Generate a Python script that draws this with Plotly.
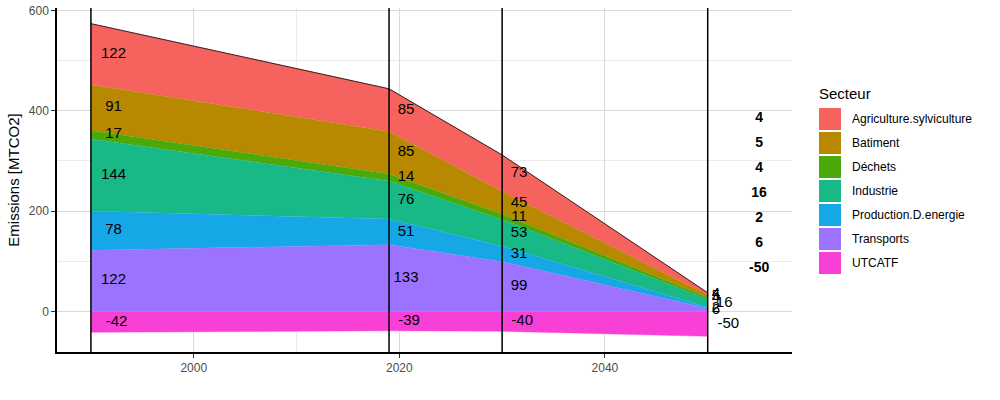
import plotly.graph_objects as go
import numpy as np

years = [1990, 2019, 2030, 2050]
sectors = ["Agriculture.sylviculture", "Batiment", "Déchets", "Industrie",
           "Production.D.energie", "Transports", "UTCATF"]
agriculture = [122, 85, 73, 4]
batiment = [91, 85, 45, 5]
dechets = [17, 14, 11, 4]
industrie = [144, 76, 53, 16]
production = [78, 51, 31, 2]
transports = [122, 133, 99, 6]
utcatf = [-42, -39, -40, -50]
colors = ["#F6635F", "#B88900", "#4BA90A", "#19B887", "#16A8E6", "#9B73FF", "#F83FD6"]

values = {"Agriculture.sylviculture": agriculture, "Batiment": batiment,
          "Déchets": dechets, "Industrie": industrie,
          "Production.D.energie": production, "Transports": transports,
          "UTCATF": utcatf}
color_of = dict(zip(sectors, colors))

fig = go.Figure()

stack_order = ["Transports", "Production.D.energie", "Industrie", "Déchets",
               "Batiment", "Agriculture.sylviculture"]
for s in stack_order:
    fig.add_trace(go.Scatter(x=years, y=values[s], name=s, stackgroup="pos",
                             mode="lines", line=dict(width=0.4, color=color_of[s]),
                             fillcolor=color_of[s], showlegend=False))
fig.add_trace(go.Scatter(x=years, y=utcatf, name="UTCATF", stackgroup="neg",
                         mode="lines", line=dict(width=0.4, color=color_of["UTCATF"]),
                         fillcolor=color_of["UTCATF"], showlegend=False))

total = np.sum([values[s] for s in stack_order], axis=0)
fig.add_trace(go.Scatter(x=years, y=total, mode="lines", line=dict(color="black", width=0.8),
                         showlegend=False, hoverinfo="skip"))

offsets = {1990: 2.2, 2019: 1.65, 2030: 1.65, 2050: 0.8}
lx, ly, lt = [], [], []
for i, yr in enumerate(years):
    base = 0
    for s in stack_order:
        v = values[s][i]
        extra = 0.8 if (yr == 2050 and s == "Industrie") else 0
        lx.append(yr + offsets[yr] + extra)
        ly.append(base + v / 2)
        lt.append(str(v))
        base += v
    lx.append(yr + offsets[yr] + (1.2 if yr == 2050 else 0.3))
    ly.append(utcatf[i] / 2)
    lt.append(str(utcatf[i]))
fig.add_trace(go.Scatter(x=lx, y=ly, text=lt, mode="text", showlegend=False,
                         textfont=dict(size=15, color="black", family="Liberation Sans"),
                         hoverinfo="skip", cliponaxis=False))

col_y = [385 - 50 * k for k in range(len(sectors))]
col_t = [str(values[s][-1]) for s in sectors]
fig.add_trace(go.Scatter(x=[2055] * len(sectors), y=col_y, text=["<b>%s</b>" % t for t in col_t],
                         mode="text", showlegend=False,
                         textfont=dict(size=14, color="black", family="Liberation Sans"),
                         hoverinfo="skip", cliponaxis=False))

for yr in years:
    fig.add_shape(type="line", x0=yr, x1=yr, xref="x", y0=0, y1=1, yref="paper",
                  line=dict(color="black", width=1.5))

L, T, W, H = 57, 8, 735, 344
def px(x):
    return (x - L) / W
def py(y):
    return 1 - (y - T) / H

fig.add_annotation(x=px(817), y=py(93), xref="paper", yref="paper", text="Secteur",
                   showarrow=False, xanchor="left", yanchor="middle",
                   font=dict(size=15, color="black", family="Liberation Sans"))
for k, s in enumerate(sectors):
    top = 108 + 24 * k
    fig.add_shape(type="rect", xref="paper", yref="paper",
                  x0=px(819), x1=px(841), y0=py(top), y1=py(top + 22),
                  fillcolor=color_of[s], line=dict(width=0))
    fig.add_annotation(x=px(850), y=py(top + 11), xref="paper", yref="paper", text=s,
                       showarrow=False, xanchor="left", yanchor="middle",
                       font=dict(size=12, color="black", family="Liberation Sans"))

fig.update_layout(
    width=1000, height=400,
    margin=dict(l=L, r=1000 - L - W, t=T, b=400 - T - H),
    plot_bgcolor="white", paper_bgcolor="white",
    showlegend=False,
    font=dict(family="Liberation Sans", color="#4d4d4d"),
    xaxis=dict(range=[1986.7, 2058.2], tickvals=[2000, 2020, 2040], automargin=False,
               showgrid=True, gridcolor="#d9d9d9", gridwidth=1,
               minor=dict(tickvals=[2010, 2030, 2050], showgrid=True, gridcolor="#ebebeb"),
               showline=True, linecolor="black", linewidth=1.5, ticks="outside",
               ticklen=4, tickcolor="#333", tickfont=dict(size=12, color="#4d4d4d"),
               zeroline=False),
    yaxis=dict(range=[-81.2, 605.2], tickvals=[0, 200, 400, 600], automargin=False,
               showgrid=True, gridcolor="#d9d9d9", gridwidth=1,
               minor=dict(tickvals=[100, 300, 500], showgrid=True, gridcolor="#ebebeb"),
               showline=True, linecolor="black", linewidth=1.5, ticks="outside",
               ticklen=4, tickcolor="#333", tickfont=dict(size=12, color="#4d4d4d"),
               zeroline=False,
               title=dict(text="Emissions [MTCO2]", font=dict(size=15, color="black"), standoff=6)),
)

fig.write_html("out.html", config={"displayModeBar": False},
               post_script="document.body.style.margin='0';")
